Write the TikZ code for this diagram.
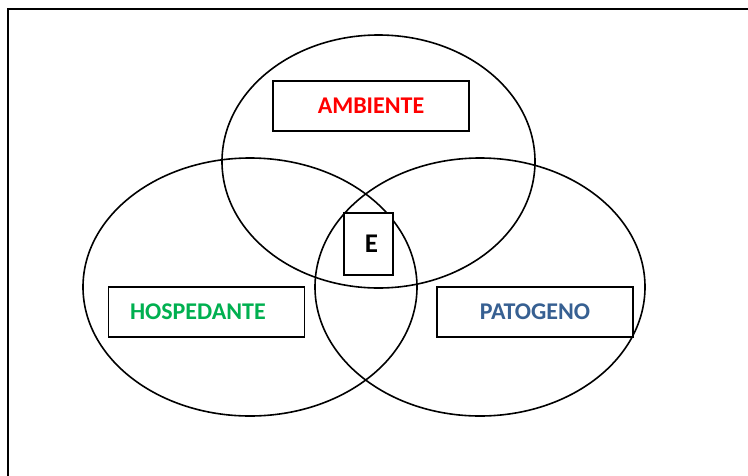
\documentclass[tikz,border=0pt]{standalone}
\usepackage{fontspec}
\setmainfont{Carlito}
\usepackage{tikz}
\usetikzlibrary{shapes.geometric}
\usetikzlibrary{calc}

\definecolor{ambrojo}{RGB}{255,0,0}
\definecolor{hosverde}{RGB}{0,176,80}
\definecolor{patazul}{RGB}{55,96,146}

\tikzset{
  caja/.style={draw=black,line width=1.6pt,fill=white,inner sep=0pt,
    minimum width=196pt,minimum height=50pt,font=\fontsize{24}{28}\selectfont\bfseries},
  circulo/.style={draw=black,line width=1.6pt}
}

\begin{document}
\begin{tikzpicture}[x=1pt,y=-1pt]
     \useasboundingbox (0,0) rectangle (748,475);
     \clip (0,0) rectangle (748,475);
     %marco
     \draw[line width=2pt] (8,500) -- (8,9) -- (760,9);

     %tres elipses
     \draw[circulo] (378.5,161.5) ellipse [x radius=156.5, y radius=126.5];
     \draw[circulo] (250,287) ellipse [x radius=167, y radius=129];
     \draw[circulo] (480,287) ellipse [x radius=165, y radius=129];

     \node[caja,text=ambrojo] (ambiente) at (371,106) {AMBIENTE};
     \node[caja,text=hosverde,text width=153pt,align=left] (hospedante) at (206.5,312) {HOSPEDANTE};
     \node[caja,text=patazul] (patogeno) at (535,312) {PATOGENO};
     \node[caja,minimum width=49pt,minimum height=62pt,font=\fontsize{27}{30}\selectfont\bfseries] (enf) at (368.5,244) {\hspace*{6pt}E};

\end{tikzpicture}
\end{document}
